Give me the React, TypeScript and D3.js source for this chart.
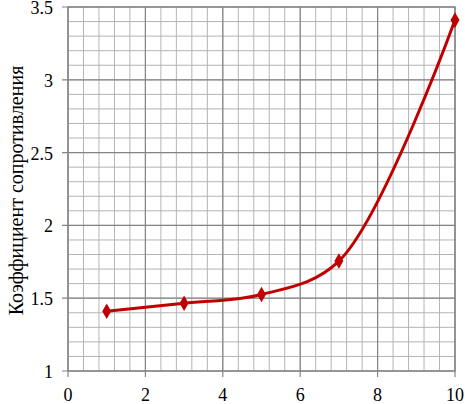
import React from "react";
import * as d3 from "d3";

const xValues = [1, 3, 5, 7, 10];
const yValues = [1.41, 1.465, 1.525, 1.755, 3.41];
const xTicks = [0, 2, 4, 6, 8, 10];
const yTicks = [1, 1.5, 2, 2.5, 3, 3.5];
const yLabel = "Коэффициент сопротивления";

export default function App() {
  const W = 465, H = 404;
  const left = 68, right = 455, top = 7, bottom = 371;
  const x = d3.scaleLinear().domain([0, 10]).range([left, right]);
  const y = d3.scaleLinear().domain([1, 3.5]).range([bottom, top]);
  const minorX = d3.range(0, 10.0001, 0.4);
  const minorY = d3.range(1, 3.5001, 0.1);
  const pts = xValues.map((v, i) => [x(v), y(yValues[i])] as [number, number]);
  const line = d3.line().curve(d3.curveCatmullRom.alpha(0.5))(pts) || "";
  const ts = { fontFamily: '"Liberation Serif"' };
  return (
    <svg
      width={W}
      height={H}
      fontFamily="Liberation Serif"
      style={{ position: "absolute", left: 0, top: 0, background: "#fff", fontFamily: "Liberation Serif" }}
    >
      <style>{`text { font-family: "Liberation Serif", "Times New Roman", serif !important; }`}</style>
      <rect x={0} y={0} width={W} height={H} fill="#fff" />
      {minorX.map((v, i) => (
        <line key={"mx" + i} x1={x(v)} x2={x(v)} y1={top} y2={bottom} stroke="#b4b4b4" strokeWidth={1} />
      ))}
      {minorY.map((v, i) => (
        <line key={"my" + i} x1={left} x2={right} y1={y(v)} y2={y(v)} stroke="#b4b4b4" strokeWidth={1} />
      ))}
      {xTicks.map((v) => (
        <line key={"Mx" + v} x1={x(v)} x2={x(v)} y1={top} y2={bottom + 6} stroke="#858585" strokeWidth={1.2} />
      ))}
      {yTicks.map((v) => (
        <line key={"My" + v} x1={left - 6} x2={right} y1={y(v)} y2={y(v)} stroke="#858585" strokeWidth={1.2} />
      ))}
      <rect x={left} y={top} width={right - left} height={bottom - top} fill="none" stroke="#858585" strokeWidth={1.2} />
      <g fontFamily="Liberation Serif" fill="#000">
        {xTicks.map((v) => (
          <text key={"tx" + v} x={x(v)} y={401} textAnchor="middle" fontSize={18} style={ts}>
            {v}
          </text>
        ))}
        {yTicks.map((v) => (
          <text key={"ty" + v} x={53} y={y(v) + 7} textAnchor="end" fontSize={18} style={ts}>
            {v}
          </text>
        ))}
        <text transform={`translate(23, ${(58 + 323) / 2}) rotate(-90)`} textAnchor="middle" fontSize={20} style={ts}>
          {yLabel}
        </text>
      </g>
      <path d={line} fill="none" stroke="#c00000" strokeWidth={3} />
      {pts.map((p, i) => (
        <path
          key={"pt" + i}
          d={d3.symbol().type(d3.symbolDiamond).size(70)() || ""}
          transform={`translate(${p[0]},${p[1]})`}
          fill="#c00000"
        />
      ))}
    </svg>
  );
}
